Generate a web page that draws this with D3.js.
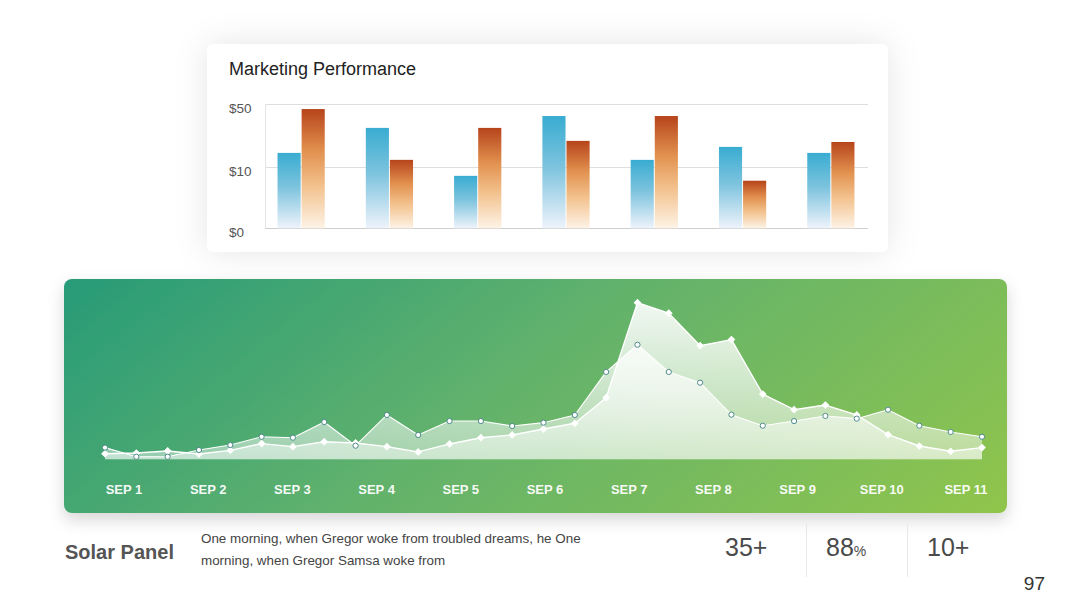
<!DOCTYPE html>
<html>
<head>
<meta charset="utf-8">
<script src="https://cdn.jsdelivr.net/npm/d3@7"></script>
<style>
  html, body { margin: 0; padding: 0; background: #ffffff; }
  svg { display: block; font-family: "Liberation Sans", Arial, Helvetica, sans-serif; }
</style>
</head>
<body>
<svg id="chart" width="1080" height="608"></svg>
<script>
// ---------- DATA ----------
const barCategories = ["G1", "G2", "G3", "G4", "G5", "G6", "G7"];
const barSeriesBlue = [19.1, 34.9, 8.6, 42.4, 14.7, 22.9, 19.1];
const barSeriesOrange = [46.8, 14.7, 34.9, 26.7, 42.4, 7.8, 26.0];
const barTickValues = [0, 10, 50];
const barTickLabels = ["$0", "$10", "$50"];

const dayLabels = ["SEP 1", "SEP 2", "SEP 3", "SEP 4", "SEP 5", "SEP 6", "SEP 7", "SEP 8", "SEP 9", "SEP 10", "SEP 11"];
const seriesCircle = [7.3, 1.6, 1.6, 5.8, 8.9, 14.1, 13.5, 23.3, 8.5, 27.7, 15.2, 23.9, 23.9, 20.8,
  22.9, 27.7, 54.6, 71.6, 54.6, 47.9, 27.9, 21.0, 23.9, 27.1, 25.4, 31.0, 21.0, 17.1, 14.1];
const seriesDiamond = [3.5, 3.9, 5.2, 3.3, 5.6, 9.8, 7.9, 11.0, 10.2, 7.9, 4.6, 9.6, 13.5, 15.2,
  18.9, 22.5, 38.5, 97.9, 91.3, 71.0, 74.8, 40.8, 31.0, 33.9, 27.7, 15.4, 8.3, 5.0, 7.3];

const statValues = ["35+", "88", "10+"];
const statSuffix = ["", "%", ""];

// ---------- SETUP ----------
const svg = d3.select("#chart");
const defs = svg.append("defs");

// shadows
const f1 = defs.append("filter").attr("id", "cardShadow").attr("x", "-20%").attr("y", "-50%").attr("width", "140%").attr("height", "200%");
f1.append("feDropShadow").attr("dx", 0).attr("dy", 0).attr("stdDeviation", 16).attr("flood-color", "#000").attr("flood-opacity", 0.1);
const f2 = defs.append("filter").attr("id", "panelShadow").attr("x", "-10%").attr("y", "-20%").attr("width", "120%").attr("height", "150%");
f2.append("feDropShadow").attr("dx", 0).attr("dy", 7).attr("stdDeviation", 8).attr("flood-color", "#000").attr("flood-opacity", 0.16);

// bar gradients
const gBlue = defs.append("linearGradient").attr("id", "gradBlue").attr("x1", 0).attr("y1", 0).attr("x2", 0).attr("y2", 1);
gBlue.append("stop").attr("offset", "0%").attr("stop-color", "#39acd1");
gBlue.append("stop").attr("offset", "45%").attr("stop-color", "#7cc3de");
gBlue.append("stop").attr("offset", "100%").attr("stop-color", "#eef3fb");
const gOrange = defs.append("linearGradient").attr("id", "gradOrange").attr("x1", 0).attr("y1", 0).attr("x2", 0).attr("y2", 1);
gOrange.append("stop").attr("offset", "0%").attr("stop-color", "#b6441b");
gOrange.append("stop").attr("offset", "35%").attr("stop-color", "#e2914f");
gOrange.append("stop").attr("offset", "65%").attr("stop-color", "#f3c28e");
gOrange.append("stop").attr("offset", "100%").attr("stop-color", "#fdf3e6");

// panel gradient
const gPanel = defs.append("linearGradient").attr("id", "gradPanel")
  .attr("gradientUnits", "userSpaceOnUse").attr("x1", 64).attr("y1", 279).attr("x2", 560).attr("y2", 900);
gPanel.append("stop").attr("offset", "0%").attr("stop-color", "#279b78");
gPanel.append("stop").attr("offset", "45%").attr("stop-color", "#62b26c");
gPanel.append("stop").attr("offset", "100%").attr("stop-color", "#93c64a");

// area gradient
const gArea = defs.append("linearGradient").attr("id", "gradArea")
  .attr("gradientUnits", "userSpaceOnUse").attr("x1", 0).attr("y1", 300).attr("x2", 0).attr("y2", 460);
gArea.append("stop").attr("offset", "0%").attr("stop-color", "#ffffff").attr("stop-opacity", 0.92);
gArea.append("stop").attr("offset", "100%").attr("stop-color", "#ffffff").attr("stop-opacity", 0.42);

// ---------- BAR CARD ----------
svg.append("rect").attr("x", 207).attr("y", 44).attr("width", 681).attr("height", 208).attr("rx", 6)
  .attr("fill", "#ffffff").attr("filter", "url(#cardShadow)");

svg.append("text").attr("x", 229).attr("y", 75).attr("font-size", 18).attr("fill", "#222")
  .text("Marketing Performance");

const yBar = d3.scaleLinear().domain(barTickValues).range([228.3, 167.3, 104]);
const x0 = d3.scaleBand().domain(barCategories).range([257, 875]).paddingInner(0.465).paddingOuter(0.2325);
const x1 = d3.scaleBand().domain(["blue", "orange"]).range([0, x0.bandwidth()]).paddingInner(0.04);

// gridlines
const grid = svg.append("g");
grid.selectAll("line").data(barTickValues).join("line")
  .attr("x1", 265).attr("x2", 868)
  .attr("y1", d => Math.round(yBar(d)) + 0.5).attr("y2", d => Math.round(yBar(d)) + 0.5)
  .attr("stroke", d => d === 0 ? "#cfcfcf" : "#dedede").attr("stroke-width", 1);
grid.append("line").attr("x1", 265.5).attr("x2", 265.5).attr("y1", yBar(50)).attr("y2", yBar(0))
  .attr("stroke", "#e6e6e6");

svg.append("g").selectAll("text").data(barTickValues).join("text")
  .attr("x", 229).attr("y", d => yBar(d) + 9)
  .attr("font-size", 13.5).attr("fill", "#555")
  .text((d, i) => barTickLabels[i]);

const bars = svg.append("g");
barCategories.forEach((c, i) => {
  [["blue", barSeriesBlue[i], "url(#gradBlue)"], ["orange", barSeriesOrange[i], "url(#gradOrange)"]].forEach(([k, v, fill]) => {
    bars.append("rect")
      .attr("x", x0(c) + x1(k)).attr("width", x1.bandwidth())
      .attr("y", yBar(v)).attr("height", yBar(0) - yBar(v))
      .attr("fill", fill);
  });
});

// ---------- GREEN PANEL ----------
svg.append("rect").attr("x", 64).attr("y", 279).attr("width", 943).attr("height", 234).attr("rx", 8)
  .attr("fill", "url(#gradPanel)").attr("filter", "url(#panelShadow)");

const idx = d3.range(seriesCircle.length);
const xPt = d3.scalePoint().domain(idx).range([105, 982]);
const yArea = d3.scaleLinear().domain([0, 100]).range([459.3, 299.3]);
const xLab = d3.scalePoint().domain(dayLabels).range([124, 966]);

const area = d3.area().x((d, i) => xPt(i)).y0(yArea(0)).y1(d => yArea(d));
const line = d3.line().x((d, i) => xPt(i)).y(d => yArea(d));

svg.append("path").datum(seriesDiamond).attr("d", area).attr("fill", "url(#gradArea)");
svg.append("path").datum(seriesCircle).attr("d", area).attr("fill", "url(#gradArea)");

svg.append("path").datum(seriesDiamond).attr("d", line).attr("fill", "none")
  .attr("stroke", "#ffffff").attr("stroke-width", 1.4).attr("stroke-linejoin", "round");
svg.append("path").datum(seriesCircle).attr("d", line).attr("fill", "none")
  .attr("stroke", "#ffffff").attr("stroke-width", 1.1).attr("stroke-linejoin", "round");

const diamond = d3.symbol().type(d3.symbolSquare).size(30);
svg.append("g").selectAll("path").data(seriesDiamond).join("path")
  .attr("transform", (d, i) => `translate(${xPt(i)},${yArea(d)}) rotate(45)`)
  .attr("d", diamond).attr("fill", "#ffffff");

svg.append("g").selectAll("circle").data(seriesCircle).join("circle")
  .attr("cx", (d, i) => xPt(i)).attr("cy", d => yArea(d)).attr("r", 2.6)
  .attr("fill", "#ffffff").attr("stroke", "#4f8a8c").attr("stroke-width", 1);

svg.append("g").selectAll("text").data(dayLabels).join("text")
  .attr("x", d => xLab(d)).attr("y", 494)
  .attr("text-anchor", "middle").attr("font-size", 13).attr("font-weight", "bold")
  .attr("fill", "#ffffff").attr("fill-opacity", 0.96).text(d => d);

// ---------- BOTTOM TEXT ----------
svg.append("text").attr("x", 65).attr("y", 559).attr("font-size", 20).attr("font-weight", "bold")
  .attr("fill", "#555").text("Solar Panel");

const desc = svg.append("text").attr("font-size", 13.4).attr("fill", "#444");
desc.append("tspan").attr("x", 201).attr("y", 543).text("One morning, when Gregor woke from troubled dreams, he One");
desc.append("tspan").attr("x", 201).attr("y", 565).text("morning, when Gregor Samsa woke from");

const statX = [725, 826, 927];
statValues.forEach((v, i) => {
  const t = svg.append("text").attr("x", statX[i]).attr("y", 556).attr("font-size", 25).attr("fill", "#4a4a4a");
  t.append("tspan").text(v);
  if (statSuffix[i]) t.append("tspan").attr("font-size", 14).text(statSuffix[i]);
});
[806.5, 907.5].forEach(x => {
  svg.append("line").attr("x1", x).attr("x2", x).attr("y1", 524).attr("y2", 577)
    .attr("stroke", "#e8e8e8");
});

svg.append("text").attr("x", 1045).attr("y", 590).attr("text-anchor", "end")
  .attr("font-size", 19).attr("fill", "#333").text("97");
</script>
</body>
</html>
